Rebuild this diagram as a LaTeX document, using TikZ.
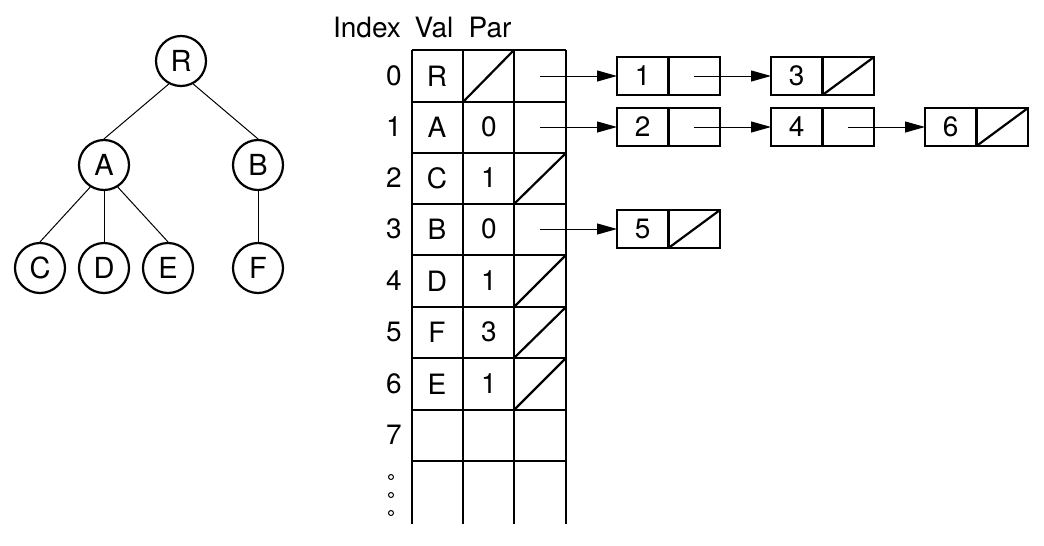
\documentclass[tikz,border=0pt]{standalone}
\usepackage{fontspec}
\setmainfont{TeX Gyre Heros}
\usetikzlibrary{arrows.meta}
\begin{document}
\begin{tikzpicture}[x=1pt,y=-1pt,
  txt/.style={font=\fontsize{28}{32}\selectfont,inner sep=0pt},
  thickln/.style={line width=2.2pt},
  tnode/.style={circle,draw,line width=2.2pt,minimum size=50pt,inner sep=0pt,font=\fontsize{29}{33}\selectfont},
  tedge/.style={line width=1pt},
  ptr/.style={line width=1pt,-{Triangle[length=20pt,width=11pt]}},
  lcell/.style={draw,line width=2.2pt,minimum width=51.5pt,minimum height=38pt,inner sep=0pt,outer sep=0pt,font=\fontsize{28}{32}\selectfont},
  dotc/.style={circle,draw,line width=1pt,minimum size=5pt,inner sep=0pt}
]
\useasboundingbox (0,0) rectangle (1044,546);
% tree
\node[tnode] (R) at (181,61) {R};
\node[tnode] (A) at (104,165) {A};
\node[tnode] (B) at (258,165) {B};
\node[tnode] (C) at (40,268) {C};
\node[tnode] (D) at (104,268) {D};
\node[tnode] (E) at (168,268) {E};
\node[tnode] (F) at (258,268) {F};
\draw[tedge] (R.-118) -- (A.north);
\draw[tedge] (R.-62) -- (B.north);
\draw[tedge] (A.-122) -- (C.north);
\draw[tedge] (A.south) -- (D.north);
\draw[tedge] (A.-58) -- (E.north);
\draw[tedge] (B.south) -- (F.north);
% header
\node[txt] (hIdx) at (367,28) {Index};
\node[txt] (hVal) at (434,28) {Val};
\node[txt] (hPar) at (490,28) {Par};
% table grid
\foreach \y in {50,102,153,204,255,307,358,410,461}
  \draw[thickln] (412,\y) -- (566,\y);
\foreach \x in {412,463,514,566}
  \draw[thickln] (\x,50) -- (\x,524);
% index labels
\foreach \i/\y in {0/76,1/127,2/178,3/229,4/281,5/332,6/384,7/435}
  \node[txt] (i\i) at (394,\y) {\i};
\node[dotc] (d1) at (391,477) {};
\node[dotc] (d2) at (391,495) {};
\node[dotc] (d3) at (391,513) {};
% values
\foreach \i/\v/\y in {0/R/76,1/A/127,2/C/178,3/B/229,4/D/281,5/F/332,6/E/384}
  \node[txt] (v\i) at (437,\y) {\v};
\foreach \i/\p/\y in {1/0/127,2/1/178,3/0/229,4/1/281,5/3/332,6/1/384}
  \node[txt] (p\i) at (489,\y) {\p};
% null diagonals in table
\draw[thickln] (463,102) -- (514,50);
\foreach \yb/\yt in {204/153,307/255,358/307,410/358}
  \draw[thickln] (514,\yb) -- (566,\yt);
% pointer starts
\coordinate (c0) at (540,76);
\coordinate (c1) at (540,127);
\coordinate (c3) at (540,229);
% list nodes
\node[lcell] (n1) at (642.75,76) {1};
\node[lcell,anchor=west] (n1r) at (n1.east) {};
\node[lcell] (n3) at (796.75,76) {3};
\node[lcell,anchor=west] (n3r) at (n3.east) {};
\node[lcell] (n2) at (642.75,127) {2};
\node[lcell,anchor=west] (n2r) at (n2.east) {};
\node[lcell] (n4) at (796.75,127) {4};
\node[lcell,anchor=west] (n4r) at (n4.east) {};
\node[lcell] (n6) at (950.75,127) {6};
\node[lcell,anchor=west] (n6r) at (n6.east) {};
\node[lcell] (n5) at (642.75,229) {5};
\node[lcell,anchor=west] (n5r) at (n5.east) {};
\draw[thickln] (n3r.south west) -- (n3r.north east);
\draw[thickln] (n6r.south west) -- (n6r.north east);
\draw[thickln] (n5r.south west) -- (n5r.north east);
% arrows
\draw[ptr] (c0) -- (n1.west);
\draw[ptr] (c1) -- (n2.west);
\draw[ptr] (c3) -- (n5.west);
\draw[ptr] (n1r.center) -- (n3.west);
\draw[ptr] (n2r.center) -- (n4.west);
\draw[ptr] (n4r.center) -- (n6.west);
\end{tikzpicture}
\end{document}
